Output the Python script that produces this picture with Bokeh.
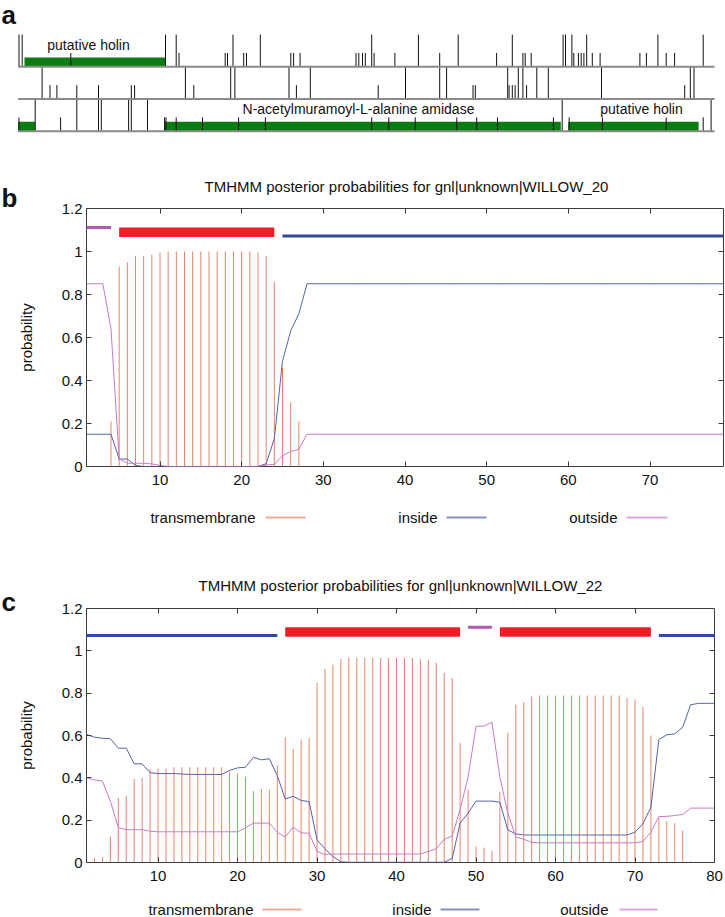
from bokeh.plotting import figure
from bokeh.models import (Range1d, LinearAxis, FixedTicker, NumeralTickFormatter,
                          CustomJSTickFormatter)
from bokeh.embed import file_html
from bokeh.resources import INLINE
from bokeh.core.properties import value

FONT = "Liberation Sans"
W = 725

# ---------------- panel a : three-frame ORF map (map positions) ----------------
row1_stops = [18.5, 21.7, 165.0, 175.7, 232.5, 259.8, 371.2, 417.9, 457.7, 511.8,
              562.6, 565.0, 571.4, 586.2, 657.4, 702.7]
row1_starts = [70.3, 178.5, 224.7, 227.0, 243.2, 246.0, 290.3, 293.1, 299.6, 355.5,
               358.3, 362.0, 364.8, 373.6, 394.4, 439.2, 496.1, 522.4, 524.7, 530.7,
               573.3, 577.9, 580.7, 583.4, 591.8, 599.6, 639.4, 645.9, 665.7, 674.1]
row2_stops = [41.6, 184.9, 230.2, 234.4, 288.5, 309.8, 405.0, 439.2, 446.1, 507.2,
              517.8, 522.4, 536.3, 547.8, 601.0, 689.8, 693.5]
row2_starts = [49.5, 56.4, 76.3, 98.0, 130.8, 134.1, 193.3, 295.9, 377.7, 472.5,
               474.8, 508.6, 511.8, 514.6, 526.1, 684.2]
row3_stops = [34.7, 76.3, 98.0, 100.8, 128.1, 130.8, 147.0, 561.7, 710.6]
row3_starts = [18.5, 60.1, 164.1, 165.5, 175.7, 202.0, 238.1, 264.9, 371.2, 388.3,
               414.7, 456.3, 476.2, 497.0, 552.9, 568.7, 601.9, 665.7, 702.7]
gene_row = [1, 3, 3, 3]
gene_start = [24.0, 17.6, 164.1, 567.7]
gene_end = [165.0, 34.7, 560.3, 698.1]
gene_label = ["putative holin", "", "N-acetylmuramoyl-L-alanine amidase", "putative holin"]
gene_label_pos = [88.0, 26.0, 358.0, 641.0]
track_start, track_end = 17.6, 714.0

# ---------------- panel b : WILLOW_20 ----------------
b_name = "gnl|unknown|WILLOW_20"
b_tm = ([0, 0, 0, 0.21, 0.93, 0.95, 0.98, 0.98, 0.985, 0.995]
        + [1.0] * 11
        + [0.995, 0.98, 0.86, 0.46, 0.30, 0.21]
        + [0] * 52)
b_inside = ([0.15, 0.15, 0.15, 0.15, 0.035, 0.035, 0.005]
            + [0.0] * 15
            + [0.013, 0.13, 0.49, 0.63, 0.71]
            + [0.85] * 52)
b_outside = ([0.85, 0.85, 0.85, 0.64, 0.035, 0.015, 0.015, 0.015, 0.012, 0.005]
             + [0.0] * 12
             + [0.007, 0.01, 0.05, 0.07, 0.08]
             + [0.15] * 52)
b_topo_kind = ["outside", "TMhelix", "inside"]
b_topo_start = [1, 5, 25]
b_topo_end = [4, 24, 79]
b_xticks = [10, 20, 30, 40, 50, 60, 70]

# ---------------- panel c : WILLOW_22 ----------------
c_name = "gnl|unknown|WILLOW_22"
c_tm = ([0, 0.022, 0.027, 0.123, 0.305, 0.316, 0.395, 0.40, 0.442, 0.445,
         0.445, 0.45, 0.45, 0.45, 0.45, 0.45, 0.45, 0.45, 0.43, 0.419,
         0.406, 0.337, 0.348, 0.345, 0.458, 0.592, 0.537, 0.581, 0.589, 0.849,
         0.915, 0.935, 0.962]
        + [0.967] * 9
        + [0.962, 0.957, 0.943, 0.896, 0.871, 0.565, 0.345, 0.075, 0.07, 0.055,
           0.335, 0.613, 0.746, 0.757, 0.784]
        + [0.789] * 11
        + [0.778, 0.770, 0.734, 0.600, 0.21, 0.195, 0.186, 0.151, 0.006, 0, 0, 0])
c_inside = ([0.605, 0.592, 0.587, 0.585, 0.54, 0.54, 0.466, 0.466, 0.424, 0.42,
             0.42, 0.42, 0.418, 0.416, 0.416, 0.416, 0.416, 0.416, 0.435, 0.447,
             0.45, 0.497, 0.485, 0.49, 0.41, 0.30, 0.313, 0.293, 0.288, 0.107,
             0.065, 0.028, 0.003]
            + [0.001] * 13
            + [0.019, 0.186, 0.233, 0.29, 0.29, 0.29, 0.285, 0.154, 0.135]
            + [0.13] * 14
            + [0.143, 0.183, 0.261, 0.581, 0.603, 0.608, 0.639, 0.745, 0.752, 0.752, 0.752])
c_outside = ([0.40, 0.39, 0.385, 0.29, 0.165, 0.155, 0.155, 0.155, 0.148]
             + [0.145] * 11
             + [0.164, 0.186, 0.186, 0.186, 0.143, 0.12, 0.167, 0.14, 0.138, 0.052,
                0.038, 0.04, 0.04]
             + [0.04] * 10
             + [0.052, 0.065, 0.11, 0.124, 0.25, 0.403, 0.644, 0.644, 0.663, 0.403,
                0.233, 0.12, 0.11, 0.095]
             + [0.093] * 12
             + [0.093, 0.10, 0.143, 0.217, 0.218, 0.222, 0.227, 0.257, 0.257, 0.257, 0.257])
c_topo_kind = ["inside", "TMhelix", "outside", "TMhelix", "inside"]
c_topo_start = [1, 26, 49, 53, 73]
c_topo_end = [25, 48, 52, 72, 80]
c_xticks = [10, 20, 30, 40, 50, 60, 70, 80]

y_ticks = [0, 0.2, 0.4, 0.6, 0.8, 1.0, 1.2]
legend_names = ["transmembrane", "inside", "outside"]

# ---------------- styles ----------------
GREEN = "#0b7d10"
TM_C = "#e8836e"
IN_C = "#5461ad"
OUT_C = "#c77ac9"
TMBAR_C = "#ec1f26"
INBAR_C = "#334b9c"
OUTBAR_C = "#b257b4"
LEG_C = ["#f3a996", "#8990c6", "#d9a5dc"]
FRAME_C = "#3c3c3c"
TXT_C = "#111111"


def blank(top, bottom):
    """Frame-only figure whose data units are page pixels (titles, legends)."""
    p = figure(width=W, height=bottom - top, x_range=Range1d(0, W),
               y_range=Range1d(bottom, top), output_backend="svg", toolbar_location=None,
               min_border=0, x_axis_type=None, y_axis_type=None)
    p.outline_line_color = None
    return p


def panel_a():
    p = figure(width=W, height=140, x_range=Range1d(0, W),
               y_range=Range1d(-0.289, 4.059), output_backend="svg",
               toolbar_location=None, min_border=0, x_axis_type=None, y_axis_type=None)
    p.outline_line_color = None
    rows = [(2, row1_stops, row1_starts), (1, row2_stops, row2_starts), (0, row3_stops, row3_starts)]
    row_base = {1: 2, 2: 1, 3: 0}
    gb = [row_base[r] for r in gene_row]
    p.quad(left=gene_start, right=gene_end, bottom=gb, top=[g + 0.29 for g in gb],
           fill_color=GREEN, line_color=None)
    for base, stops, starts in rows:
        p.segment(x0=stops, x1=stops, y0=[base] * len(stops), y1=[base + 1] * len(stops),
                  line_color=TXT_C, line_width=1)
        p.segment(x0=starts, x1=starts, y0=[base] * len(starts), y1=[base + 0.43] * len(starts),
                  line_color=TXT_C, line_width=1)
    p.segment(x0=[track_start] * 3, x1=[track_end] * 3, y0=[2, 1, 0], y1=[2, 1, 0],
              line_color="#8a8a8a", line_width=2)
    p.text(x=gene_label_pos, y=[g + 0.68 for g in gb], text=gene_label,
           text_font=value(FONT), text_font_size="14px", text_align="center",
           text_baseline="middle", text_color=TXT_C)
    p.text(x=[1], y=[3.609], text=["a"], text_font=value(FONT), text_font_size="26px",
           text_font_style="bold", text_baseline="middle", text_align="left",
           text_color=TXT_C)
    return p


def header(top, bottom, letter, name, title_cx, title_cy, letter_cy):
    p = blank(top, bottom)
    p.text(x=[title_cx], y=[title_cy], text=["TMHMM posterior probabilities for " + name],
           text_font=value(FONT), text_font_size="15px", text_align="center",
           text_baseline="middle", text_color=TXT_C)
    p.text(x=[1], y=[letter_cy], text=[letter], text_font=value(FONT), text_font_size="26px",
           text_font_style="bold", text_baseline="middle", text_align="left",
           text_color=TXT_C)
    return p


def legend_fig(top, bottom, cy, rights, samples):
    p = blank(top, bottom)
    p.text(x=rights, y=[cy] * 3, text=legend_names, text_font=value(FONT),
           text_font_size="15px", text_align="right", text_baseline="middle",
           text_color=TXT_C)
    p.segment(x0=[s[0] for s in samples], x1=[s[1] for s in samples], y0=[cy] * 3,
              y1=[cy] * 3, line_color=LEG_C, line_width=2)
    return p


def tmhmm(tm, inside, outside, kinds, starts, ends, xticks, right_b, frame_h,
          bottom_b, overlap):
    n = len(tm)
    xs = list(range(1, n + 1))
    top_b = 12
    p = figure(width=W, height=top_b + frame_h + bottom_b, x_range=Range1d(1, n),
               y_range=Range1d(0, 1.2), output_backend="svg", toolbar_location=None,
               min_border_left=86, min_border_right=right_b,
               min_border_top=top_b, min_border_bottom=bottom_b,
               margin=(-overlap, 0, 0, 0))
    p.border_fill_color = None
    bottom_ax = p.xaxis[0]
    left_ax = p.yaxis[0]

    p.segment(x0=xs, y0=[0] * n, x1=xs, y1=tm, line_color=TM_C, line_width=1)
    p.line(xs, inside, line_color=IN_C, line_width=1)
    p.line(xs, outside, line_color=OUT_C, line_width=1)

    tm_s = [s for k, s in zip(kinds, starts) if k == "TMhelix"]
    tm_e = [e for k, e in zip(kinds, ends) if k == "TMhelix"]
    in_s = [s for k, s in zip(kinds, starts) if k == "inside"]
    in_e = [e for k, e in zip(kinds, ends) if k == "inside"]
    out_s = [s for k, s in zip(kinds, starts) if k == "outside"]
    out_e = [e for k, e in zip(kinds, ends) if k == "outside"]
    p.quad(left=tm_s, right=tm_e, bottom=[1.067] * len(tm_s), top=[1.112] * len(tm_s),
           fill_color=TMBAR_C, line_color=None)
    p.segment(x0=in_s, x1=in_e, y0=[1.072] * len(in_s), y1=[1.072] * len(in_s),
              line_color=INBAR_C, line_width=3)
    p.segment(x0=out_s, x1=out_e, y0=[1.112] * len(out_s), y1=[1.112] * len(out_s),
              line_color=OUTBAR_C, line_width=3)

    p.xgrid.visible = False
    p.ygrid.visible = False
    p.outline_line_color = FRAME_C
    p.outline_line_width = 1
    bottom_ax.ticker = FixedTicker(ticks=xticks)
    left_ax.ticker = FixedTicker(ticks=y_ticks)
    left_ax.formatter = NumeralTickFormatter(format="0.[0]")
    top_ax = LinearAxis(ticker=FixedTicker(ticks=xticks), fixed_location=1.2,
                        formatter=CustomJSTickFormatter(code="return ''"))
    right_ax = LinearAxis(ticker=FixedTicker(ticks=y_ticks), fixed_location=n,
                          formatter=CustomJSTickFormatter(code="return ''"))
    p.add_layout(top_ax, "above")
    p.add_layout(right_ax, "right")
    for ax in [bottom_ax, left_ax, top_ax, right_ax]:
        ax.axis_line_color = None
        ax.major_tick_in = 5
        ax.major_tick_out = 0
        ax.major_tick_line_color = FRAME_C
        ax.minor_tick_line_color = None
    for ax in [bottom_ax, left_ax]:
        ax.major_label_text_font = FONT
        ax.major_label_text_font_size = "15px"
        ax.major_label_text_color = TXT_C
    bottom_ax.major_label_standoff = 8
    left_ax.major_label_standoff = 4
    left_ax.axis_label = "probability"
    left_ax.axis_label_text_font = FONT
    left_ax.axis_label_text_font_size = "15px"
    left_ax.axis_label_text_font_style = "normal"
    left_ax.axis_label_text_color = TXT_C
    left_ax.axis_label_standoff = 24
    return p


# page layout (page y): a 0-140 | b header 140-212 | b plot 196-496 (overlaps header)
#                       b legend 496-545 | c header 545-616 | c plot 596-890 | c legend 890-917
pa = panel_a()
hb = header(140, 212, "b", b_name, 406, 186, 197)
pb = tmhmm(b_tm, b_inside, b_outside, b_topo_kind, b_topo_start, b_topo_end,
           b_xticks, 2, 258, 30, 16)
lb = legend_fig(496, 545, 517, [255, 437, 617], [(265, 305), (446, 486), (626, 667)])
hc = header(545, 616, "c", c_name, 400, 585, 601)
pc = tmhmm(c_tm, c_inside, c_outside, c_topo_kind, c_topo_start, c_topo_end,
           c_xticks, 11, 254, 28, 20)
lc = legend_fig(890, 917, 909, [253, 431, 608], [(262, 301), (440, 479), (619, 657)])

open("out.html", "w").write(file_html([pa, hb, pb, lb, hc, pc, lc], INLINE))
